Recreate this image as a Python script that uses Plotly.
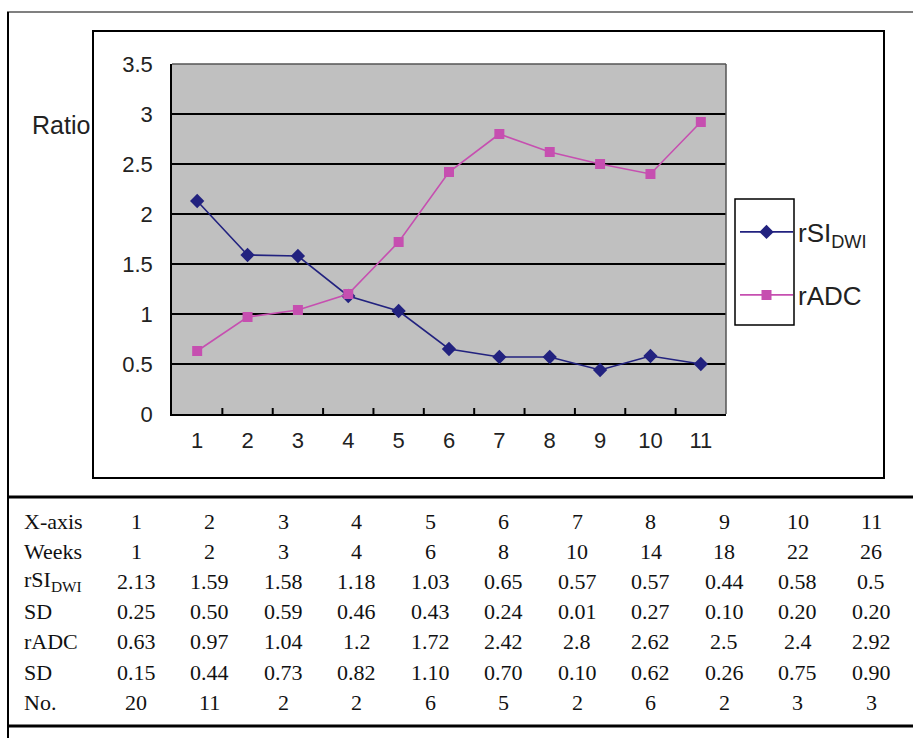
import plotly.graph_objects as go

# ---- data ----
x_axis = [1, 2, 3, 4, 5, 6, 7, 8, 9, 10, 11]
weeks = [1, 2, 3, 4, 6, 8, 10, 14, 18, 22, 26]
rsi_dwi = [2.13, 1.59, 1.58, 1.18, 1.03, 0.65, 0.57, 0.57, 0.44, 0.58, 0.5]
sd_rsi = [0.25, 0.50, 0.59, 0.46, 0.43, 0.24, 0.01, 0.27, 0.10, 0.20, 0.20]
radc = [0.63, 0.97, 1.04, 1.2, 1.72, 2.42, 2.8, 2.62, 2.5, 2.4, 2.92]
sd_radc = [0.15, 0.44, 0.73, 0.82, 1.10, 0.70, 0.10, 0.62, 0.26, 0.75, 0.90]
n_cases = [20, 11, 2, 2, 6, 5, 2, 6, 2, 3, 3]
y_ticks = [0, 0.5, 1, 1.5, 2, 2.5, 3, 3.5]

W, H = 913, 738
def px(x):
    return x / W
def py(y):
    return 1 - y / H

NAVY = "#22227f"
MAG = "#c64fb0"
SANS = "Liberation Sans, Arial, sans-serif"
SERIF = "Liberation Serif, Times New Roman, serif"

fig = go.Figure()
fig.add_trace(go.Scatter(
    x=x_axis, y=rsi_dwi, mode="lines+markers", name="rSI<sub>DWI</sub>",
    line=dict(color=NAVY, width=1.6),
    marker=dict(symbol="diamond", size=11, color=NAVY),
    legend="legend"))
fig.add_trace(go.Scatter(
    x=x_axis, y=radc, mode="lines+markers", name="rADC",
    line=dict(color=MAG, width=1.6),
    marker=dict(symbol="square", size=10, color=MAG),
    legend="legend2"))

plot_l, plot_r, plot_t, plot_b = 172, 726, 64, 414
boundaries = [v + 0.5 for v in x_axis[:-1]]

fig.update_layout(
    width=W, height=H,
    margin=dict(l=0, r=0, t=0, b=0, pad=0, autoexpand=False),
    paper_bgcolor="white",
    plot_bgcolor="#c0c0c0",
    font=dict(family=SANS, color="#222222"),
    xaxis=dict(
        domain=[px(plot_l), px(plot_r)], range=[0.5, 11.5],
        tickmode="array", tickvals=x_axis, ticktext=[str(v) for v in x_axis],
        ticks="", showgrid=False, zeroline=False, automargin=False,
        showline=True, linecolor="black", linewidth=1.5,
        tickfont=dict(size=22, family=SANS, color="#222222"),
        ticklabelstandoff=6,
        fixedrange=True),
    yaxis=dict(
        domain=[py(plot_b), py(plot_t)], range=[0, 3.5],
        tickmode="array", tickvals=y_ticks, ticktext=[f"{v:g}" for v in y_ticks],
        ticks="", showgrid=True, gridcolor="black", gridwidth=1.5,
        zeroline=False, showline=True, linecolor="black", linewidth=1.5,
        automargin=False,
        tickfont=dict(size=22, family=SANS, color="#222222"),
        ticklabelstandoff=13,
        fixedrange=True),
    showlegend=True,
    legend=dict(x=px(735), y=py(232), xanchor="left", yanchor="middle",
                bgcolor="rgba(0,0,0,0)", borderwidth=0, itemwidth=53,
                font=dict(size=26, family=SANS, color="#222222")),
    legend2=dict(x=px(735), y=py(295), xanchor="left", yanchor="middle",
                 bgcolor="rgba(0,0,0,0)", borderwidth=0, itemwidth=53,
                 font=dict(size=26, family=SANS, color="#222222")),
)

shapes = []
# outer frame lines
shapes.append(dict(type="line", xref="paper", yref="paper",
                   x0=px(7), x1=1, y0=py(12), y1=py(12),
                   line=dict(color="#808080", width=2)))
shapes.append(dict(type="line", xref="paper", yref="paper",
                   x0=px(8), x1=px(8), y0=py(12), y1=0,
                   line=dict(color="black", width=2)))
# chart frame
shapes.append(dict(type="rect", xref="paper", yref="paper",
                   x0=px(93), x1=px(884), y0=py(478), y1=py(31),
                   line=dict(color="black", width=2)))
# plot area border (top/right gray)
shapes.append(dict(type="line", xref="paper", yref="paper",
                   x0=px(plot_l), x1=px(plot_r), y0=py(plot_t), y1=py(plot_t),
                   line=dict(color="#555555", width=1.5)))
shapes.append(dict(type="line", xref="paper", yref="paper",
                   x0=px(plot_r), x1=px(plot_r), y0=py(plot_b), y1=py(plot_t),
                   line=dict(color="#555555", width=1.5)))
# category boundary tick marks (inside, on x axis)
for b in boundaries:
    shapes.append(dict(type="line", xref="x", yref="paper", x0=b, x1=b,
                       y0=py(plot_b), y1=py(plot_b - 6), layer="above",
                       line=dict(color="black", width=2)))
# legend box
shapes.append(dict(type="rect", xref="paper", yref="paper",
                   x0=px(735), x1=px(794), y0=py(325), y1=py(199),
                   line=dict(color="black", width=1.5)))
# table lines
shapes.append(dict(type="line", xref="paper", yref="paper",
                   x0=px(8), x1=1, y0=py(497), y1=py(497),
                   line=dict(color="black", width=3)))
shapes.append(dict(type="line", xref="paper", yref="paper",
                   x0=px(8), x1=1, y0=py(726), y1=py(726),
                   line=dict(color="black", width=3)))
fig.update_layout(shapes=shapes)

ann = []
ann.append(dict(text="Ratio", xref="paper", yref="paper", x=px(30), y=py(125),
                xanchor="left", yanchor="middle", showarrow=False,
                font=dict(size=25, family=SANS, color="#222222")))

rows = [
    ("X-axis", [str(v) for v in x_axis]),
    ("Weeks", [str(v) for v in weeks]),
    ("rSI<sub>DWI</sub>", [f"{v:g}" for v in rsi_dwi]),
    ("SD", [f"{v:.2f}" for v in sd_rsi]),
    ("rADC", [f"{v:g}" for v in radc]),
    ("SD", [f"{v:.2f}" for v in sd_radc]),
    ("No.", [str(v) for v in n_cases]),
]
row_y0, row_dy = 521, 30.2
col_x0, col_dx = 136, 73.5
for i, (label, vals) in enumerate(rows):
    yy = row_y0 + i * row_dy
    ann.append(dict(text=label, xref="paper", yref="paper", x=px(22), y=py(yy),
                    xanchor="left", yanchor="middle", showarrow=False,
                    font=dict(size=22, family=SERIF, color="#111111")))
    for j, v in enumerate(vals):
        ann.append(dict(text=v, xref="paper", yref="paper",
                        x=px(col_x0 + j * col_dx), y=py(yy),
                        xanchor="center", yanchor="middle", showarrow=False,
                        font=dict(size=22, family=SERIF, color="#111111")))
fig.update_layout(annotations=ann)

fig.write_html("out.html", config={"displayModeBar": False},
               post_script="document.body.style.margin='0';")
